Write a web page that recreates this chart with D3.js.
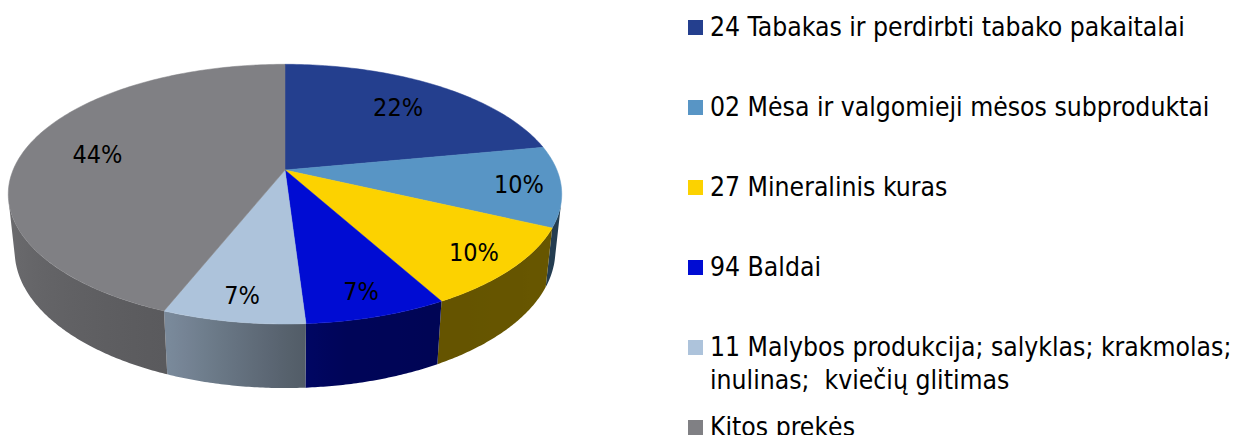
<!DOCTYPE html>
<html>
<head>
<meta charset="utf-8">
<script src="https://cdn.jsdelivr.net/npm/d3@7"></script>
<style>
  body { margin: 0; background: #fff; }
  text { font-family: "DejaVu Sans Condensed", "DejaVu Sans", sans-serif; }
</style>
</head>
<body>
<svg id="chart" width="1236" height="435"></svg>
<script>
// shares of export, %
const categories = [
  "24 Tabakas ir perdirbti tabako pakaitalai",
  "02 Mėsa ir valgomieji mėsos subproduktai",
  "27 Mineralinis kuras",
  "94 Baldai",
  "11 Malybos produkcija; salyklas; krakmolas;\ninulinas;  kviečių glitimas",
  "Kitos prekės"
];
const shares = [22, 10, 10, 7, 7, 44];
const colors = ["#243f8e", "#5895c5", "#fcd200", "#000cd3", "#adc3db", "#808084"];

const svg = d3.select("#chart");
const defs = svg.append("defs");

// 3d projection of the pie (radius 1, top face at z = 0)
const cx = 285, cy = 170;
const sinT = 0.461, cosT = 0.887;
const D = 4.77, f = 1297, depth = 0.237;

function project(a, r, z) {
  const x = r * Math.sin(a), y = r * Math.cos(a);
  const v = y * sinT + z * cosT;
  const w = D + y * cosT - z * sinT;
  return [cx + f * x / w, cy - f * v / w, w];
}

const pie = d3.pie().sort(null).value(d => d);
const arcs = pie(shares);
const color = d3.scaleOrdinal().domain(d3.range(shares.length)).range(colors);

// side shading by angle (deg)
const shade = d3.scaleLinear()
  .domain([90, 150, 170, 180, 200, 270, 360])
  .range([0.42, 0.40, 0.42, 0.5, 0.70, 0.88, 0.88])
  .clamp(true);

const line = d3.line();

// front facing test for a wall piece between angles a and a1
function facing(a, a1) {
  const p0 = project(a, 1, 0), p1 = project(a1, 1, 0), q0 = project(a, 1, -depth);
  return (p1[0] - p0[0]) * (q0[1] - p0[1]) - (p1[1] - p0[1]) * (q0[0] - p0[0]) < 0;
}

// outer walls: one path per slice with a horizontal gradient
const step = Math.PI / 360;
const walls = [];
arcs.forEach((d, i) => {
  const angs = [];
  for (let a = d.startAngle; a < d.endAngle - 1e-9; a += step) {
    const a1 = Math.min(a + step, d.endAngle);
    if (facing(a, a1)) {
      if (!angs.length || angs[angs.length - 1] !== a) angs.push(a);
      angs.push(a1);
    }
  }
  if (angs.length < 2) return;
  const top = angs.map(a => project(a, 1, 0));
  const bot = angs.map(a => project(a, 1, -depth)).reverse();
  const xs = top.map(p => p[0]);
  const x0 = d3.min(xs), x1 = d3.max(xs);
  const c = d3.rgb(color(i));
  const stops = angs.filter((a, j) => j % 6 === 0 || j === angs.length - 1).map(a => {
    const k = shade(a * 180 / Math.PI);
    return {
      offset: x1 > x0 ? (project(a, 1, 0)[0] - x0) / (x1 - x0) : 0,
      color: d3.rgb(c.r * k, c.g * k, c.b * k).formatHex()
    };
  }).sort((p, q) => p.offset - q.offset);
  const gid = "wall" + i;
  const g = defs.append("linearGradient")
    .attr("id", gid)
    .attr("gradientUnits", "userSpaceOnUse")
    .attr("x1", x0).attr("x2", x1).attr("y1", 0).attr("y2", 0);
  g.selectAll("stop").data(stops).join("stop")
    .attr("offset", s => s.offset)
    .attr("stop-color", s => s.color);
  walls.push({ d: line(top.concat(bot).map(p => [p[0], p[1]])) + "Z", fill: `url(#${gid})` });
});

svg.append("g").selectAll("path")
  .data(walls)
  .join("path")
  .attr("d", d => d.d)
  .attr("fill", d => d.fill);

// top faces
function topFace(d) {
  const pts = [project(0, 0, 0)];
  const n = Math.max(2, Math.ceil((d.endAngle - d.startAngle) / (Math.PI / 180)));
  for (let j = 0; j <= n; j++) {
    const a = d.startAngle + (d.endAngle - d.startAngle) * j / n;
    pts.push(project(a, 1, 0));
  }
  return line(pts.map(p => [p[0], p[1]])) + "Z";
}

svg.append("g").selectAll("path")
  .data(arcs)
  .join("path")
  .attr("d", topFace)
  .attr("fill", (d, i) => color(i))
  .attr("stroke", (d, i) => color(i))
  .attr("stroke-width", 0.5);

// data labels
svg.append("g").selectAll("text")
  .data(arcs)
  .join("text")
  .attr("transform", d => {
    const mid = (d.startAngle + d.endAngle) / 2;
    const r = d.data < 15 ? 0.85 : 0.72;
    const p = project(mid, r, 0);
    return `translate(${p[0]},${p[1]})`;
  })
  .attr("text-anchor", "middle")
  .attr("dy", "0.36em")
  .attr("font-size", 25)
  .attr("fill", "#000")
  .text(d => d.data + "%");

// legend
const legend = svg.append("g");
const rows = legend.selectAll("g")
  .data(categories)
  .join("g")
  .attr("transform", (d, i) => `translate(688,${36 + 80 * i})`);

rows.append("rect")
  .attr("x", 0).attr("y", -16)
  .attr("width", 15).attr("height", 15)
  .attr("fill", (d, i) => colors[i]);

const labels = rows.append("text")
  .attr("x", 22)
  .attr("font-size", 22)
  .attr("fill", "#000")
  .style("white-space", "pre");

labels.selectAll("tspan")
  .data(d => d.split("\n"))
  .join("tspan")
  .attr("x", 22)
  .attr("dy", (d, j) => j === 0 ? 0 : 33)
  .text(d => d);

// fit legend font to first item width
const firstW = labels.node().getComputedTextLength();
const fs = 22 * 475 / firstW;
labels.attr("font-size", fs);
</script>
</body>
</html>
